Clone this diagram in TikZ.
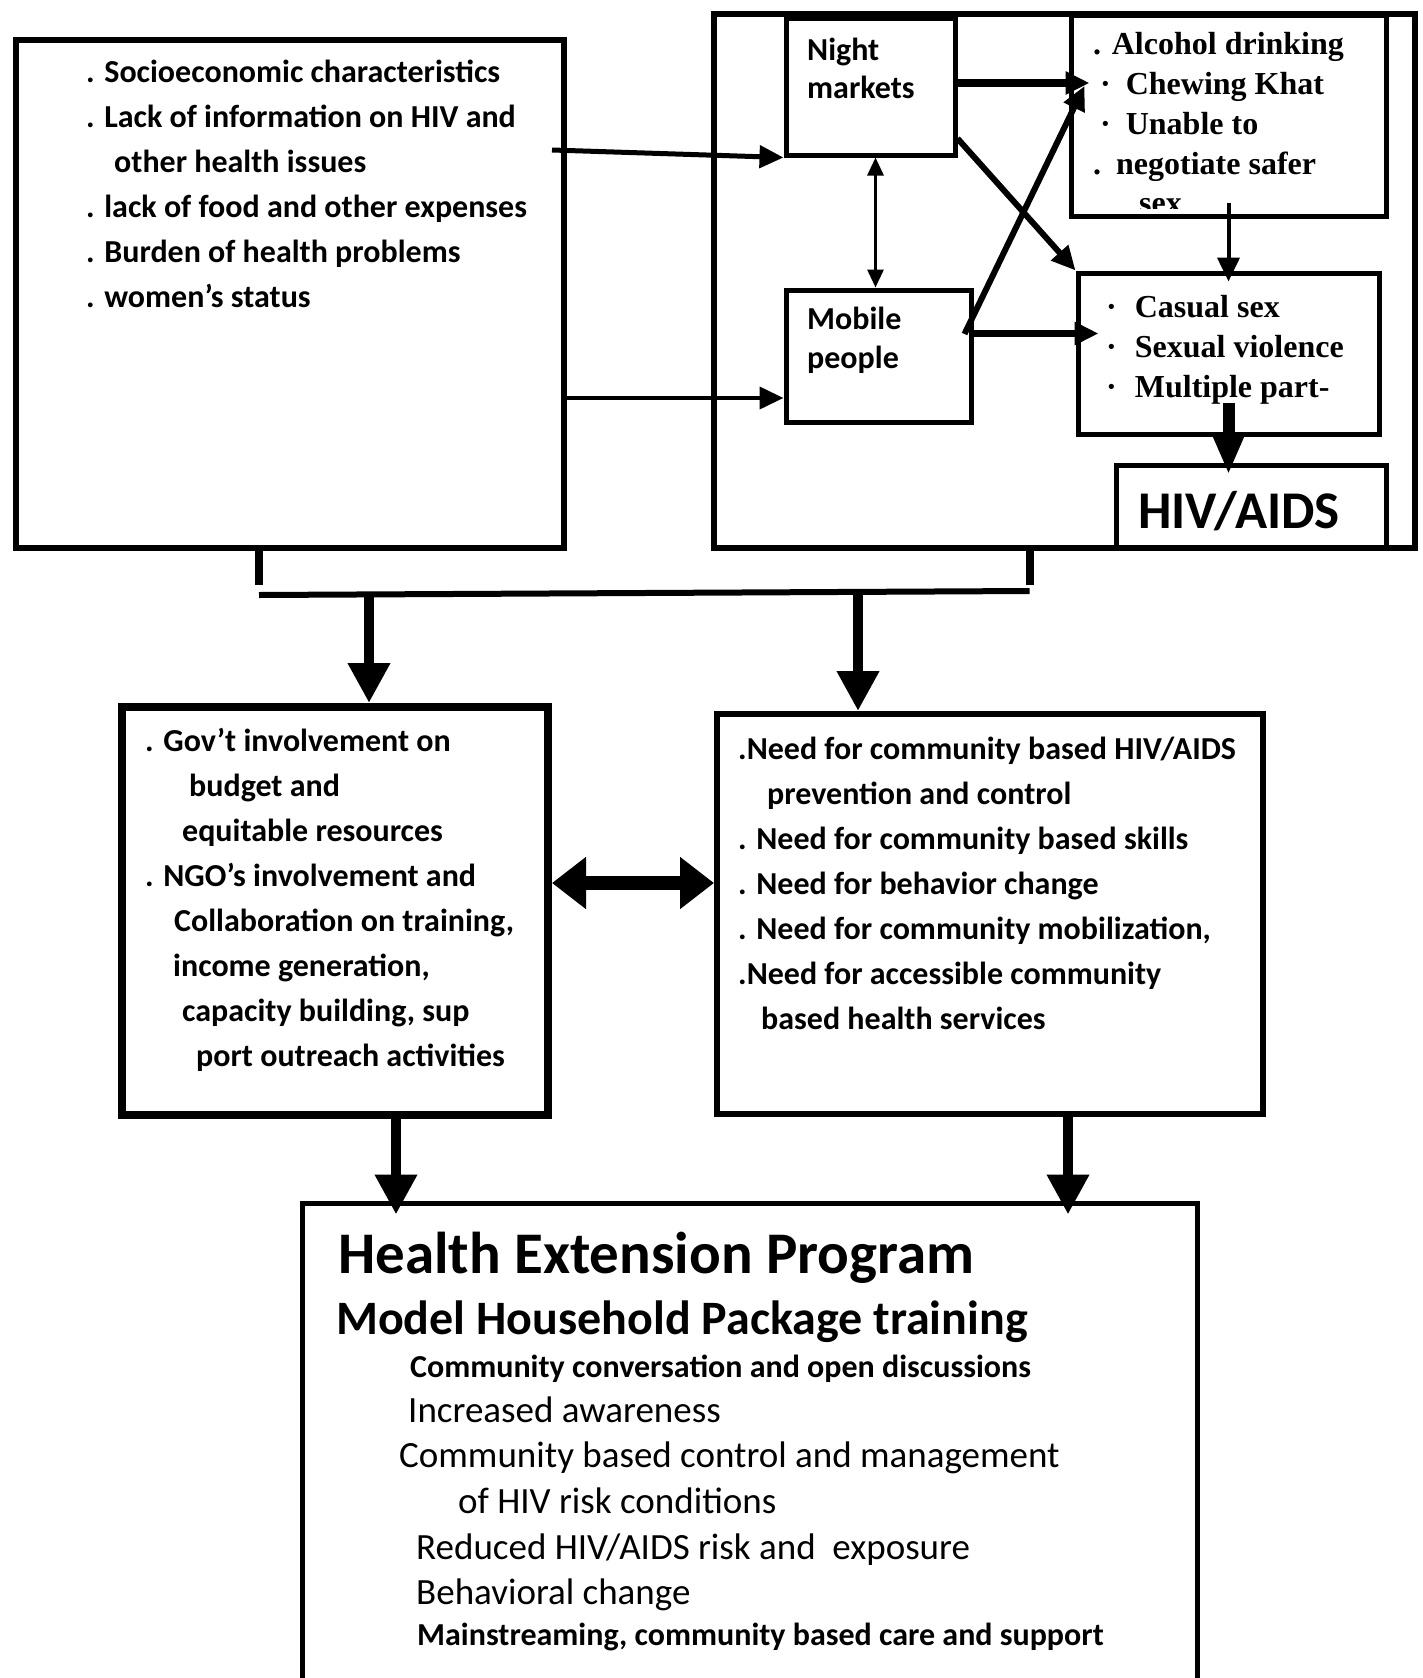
\documentclass[tikz,border=0pt]{standalone}
\usepackage{fontspec}
\setmainfont{Carlito}
\newfontfamily\timesfont{Liberation Serif}
\usetikzlibrary{positioning}
\usetikzlibrary{arrows.meta}
\usetikzlibrary{calc}

\tikzset{
  box/.style={draw, rectangle, inner sep=0pt, line width=5pt},
  txt/.style={inner sep=0pt, align=left, anchor=base west, font=\fontsize{32}{45}\selectfont\bfseries},
  rtxt/.style={inner sep=0pt, align=left, anchor=base west, font=\timesfont\fontsize{32}{40}\selectfont\bfseries},
  hepbold/.style={inner sep=0pt, anchor=base west, font=\fontsize{#1}{#1}\selectfont\bfseries},
  hepline/.style={inner sep=0pt, anchor=base west, font=\fontsize{37}{37}\selectfont},
  thinarr/.style={line width=3pt, {Triangle[length=18pt, width=16pt]}-{Triangle[length=18pt, width=16pt]}},
  medarr/.style={line width=5pt, -{Triangle[length=24pt, width=22pt]}},
  bigarr/.style={line width=10pt, -{Triangle[length=40pt, width=40pt]}},
  dblarr/.style={line width=14pt, {Triangle[length=34pt, width=50pt]}-{Triangle[length=34pt, width=50pt]}},
}

\begin{document}
\begin{tikzpicture}[x=1pt, y=-1pt]
    \useasboundingbox (0,0) rectangle (1423,1678);

    % boxes
    \node[box, line width=6pt, minimum width=548pt, minimum height=508pt] (socio) at (290,294) {};
    \node[box, line width=6pt, minimum width=701pt, minimum height=534pt] (risk) at (1064.5,281) {};
    \node[box, minimum width=169pt, minimum height=136pt] (night) at (870.5,87) {};
    \node[box, minimum width=315pt, minimum height=200pt] (alcohol) at (1228.5,116) {};
    \node[box, minimum width=185pt, minimum height=132pt] (mobile) at (878.5,356) {};
    \node[box, minimum width=301pt, minimum height=161pt] (casual) at (1228.5,353.5) {};
    \node[box, minimum width=270pt, minimum height=83pt] (hiv) at (1251,506.5) {};
    \node[box, line width=8pt, minimum width=426pt, minimum height=408pt] (gov) at (335,911) {};
    \node[box, line width=6pt, minimum width=546pt, minimum height=400pt] (need) at (990,914) {};
    \node[box, minimum width=895pt, minimum height=517pt] (hep) at (749.5,1461.5) {};

    % texts (anchored at the baseline of their last line)
    \node[txt] (socio-txt) at (86,307) {. Socioeconomic characteristics\\
        . Lack of information on HIV and\\
        \hspace*{28pt}other health issues\\
        . lack of food and other expenses\\
        . Burden of health problems\\
        . women’s status};
    \node[txt, font=\fontsize{32}{39}\selectfont\bfseries] (night-txt) at (807,99) {Night\\markets};
    \node[txt, font=\fontsize{32}{39}\selectfont\bfseries] (mobile-txt) at (807,368) {Mobile\\people};
    \node[rtxt] (alcohol-txt) at (1093,174) {. Alcohol drinking\\
        \hspace*{7pt}·\hspace*{15pt}Chewing Khat\\
        \hspace*{7pt}·\hspace*{15pt}Unable to\\
        .\hspace*{15pt}negotiate safer};
    \begin{scope}
        \clip (alcohol.north west) rectangle ([yshift=10pt]alcohol.south east);
        \node[rtxt] (sex-txt) at (1139,213) {sex};
    \end{scope}
    \node[rtxt] (casual-txt) at (1106,397) {·\hspace*{18pt}Casual sex\\
        ·\hspace*{18pt}Sexual violence\\
        ·\hspace*{18pt}Multiple part-};
    \node[inner sep=0pt, font=\fontsize{53}{60}\selectfont\bfseries] (hiv-txt) at (1239,511) {HIV/AIDS};
    \node[txt] (gov-txt) at (145,1066) {. Gov’t involvement on\\
        \hspace*{44pt}budget and\\
        \hspace*{37pt}equitable resources\\
        . NGO’s involvement and\\
        \hspace*{29pt}Collaboration on training,\\
        \hspace*{28pt}income generation,\\
        \hspace*{37pt}capacity building, sup\\
        \hspace*{51pt}port outreach activities};
    \node[txt] (need-txt) at (738,1029) {.Need for community based HIV/AIDS\\
        \hspace*{29pt}prevention and control\\
        . Need for community based skills\\
        . Need for behavior change\\
        . Need for community mobilization,\\
        .Need for accessible community\\
        \hspace*{23pt}based health services};

    \node[hepbold=59] (hep-title) at (338,1273) {Health Extension Program};
    \node[hepbold=48] (hep-sub) at (336,1334) {Model Household Package training};
    \node[hepbold=32] (hep-l1) at (410,1377) {Community conversation and open discussions};
    \node[hepline] (hep-l2) at (408,1422) {Increased awareness};
    \node[hepline] (hep-l3) at (399,1467) {Community based control and management};
    \node[hepline] (hep-l4) at (458,1513) {of HIV risk conditions};
    \node[hepline] (hep-l5) at (416,1559) {Reduced HIV/AIDS risk and\ \ exposure};
    \node[hepline] (hep-l6) at (416,1604) {Behavioral change};
    \node[hepbold=32] (hep-l7) at (417,1645) {Mainstreaming, community based care and support};

    % connectors
    \draw[medarr] ($(socio.north east)+(-15,113)$) -- (night.south west);
    \coordinate (mob-in) at ($(mobile.west)+(0,42)$);
    \draw[medarr, line width=4pt] (socio.east |- mob-in) -- (mob-in);
    \draw[thinarr] ([xshift=5pt]night.south) -- ([xshift=5pt]night.south |- mobile.north);
    \draw[medarr, line width=8pt] ([yshift=4pt]night.east) -- ([yshift=4pt, xshift=21pt]night.east -| alcohol.west);
    \draw[medarr, line width=6pt] ([yshift=19pt]night.south east) -- (casual.north west);
    \draw[medarr, line width=6pt] ($(mobile.east)+(-9,-22)$) -- ($(alcohol.west)+(16,-30)$);
    \coordinate (cas-in) at ($(casual.west)+(23,-20)$);
    \draw[medarr, line width=7pt] (mobile.east |- cas-in) -- (cas-in);
    \draw[medarr, line width=4pt] ([yshift=16pt]alcohol.south) -- ([yshift=-11pt]casual.north);
    \draw[line width=12pt, -{Triangle[length=40pt, width=30pt]}] ([yshift=34pt]casual.south) -- ([yshift=-12pt]casual.south |- hiv.north);

    \coordinate (join-l) at ($(socio.south)+(-31,44)$);
    \coordinate (join-r) at ($(risk.south)+(-35,40)$);
    \draw[line width=8pt] (socio.south -| join-l) -- ([yshift=10pt]join-l);
    \draw[line width=8pt] (risk.south -| join-r) -- ([yshift=6pt]join-r);
    \draw[line width=6pt] (join-l) -- (join-r);
    \draw[bigarr] ([xshift=34pt]gov.north |- join-l) -- ([xshift=34pt]gov.north);
    \draw[bigarr] ([xshift=-132pt]need.north |- join-r) -- ([xshift=-132pt]need.north);
    \draw[dblarr] ([yshift=28pt]gov.east) -- ([yshift=28pt]gov.east -| need.west);
    \draw[bigarr] ([xshift=61pt]gov.south) -- ([xshift=61pt, yshift=-14pt]gov.south |- hep.north);
    \draw[bigarr] ([xshift=78pt]need.south) -- ([xshift=78pt, yshift=-14pt]need.south |- hep.north);
\end{tikzpicture}
\end{document}
